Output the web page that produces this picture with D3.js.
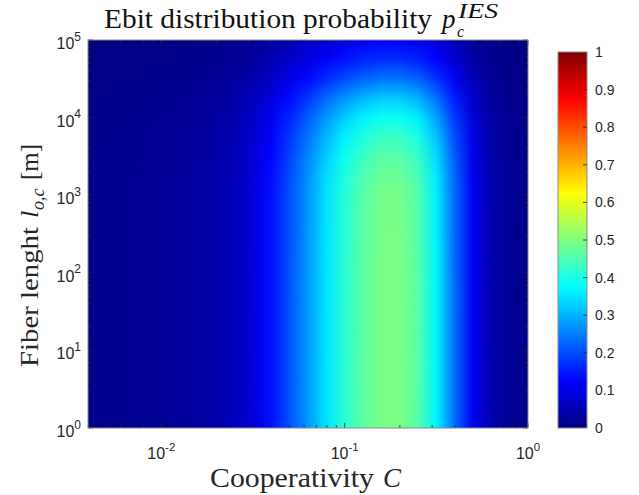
<!DOCTYPE html>
<html><head><meta charset="utf-8">
<script src="https://cdn.jsdelivr.net/npm/d3@7"></script>
<style>html,body{margin:0;padding:0;background:#fff;} svg{display:block;}</style>
</head><body>
<svg id="chart" width="639" height="495"></svg>
<script>
// ---- data ----
// grid of cooperativity values, given as powers of ten
const coopExponents = [-2.4,-2.3,-2.2,-2.1,-2.0,-1.9,-1.8,-1.7,-1.6,-1.5,-1.4,-1.3,-1.2,-1.1,-1.0,-0.9,-0.8,-0.7,-0.6,-0.5,-0.4,-0.3,-0.2,-0.1,0.0];
// grid of fiber lengths [m], given as powers of ten
const fiberExponents = [0,1,2,3,3.25,3.5,3.75,4,4.25,4.5,4.75,5];
// ebit distribution probability, one row per fiber length, one value per cooperativity
const probRows = [
  [0.012,0.014,0.016,0.019,0.022,0.026,0.032,0.042,0.058,0.090,0.140,0.205,0.275,0.350,0.415,0.465,0.495,0.495,0.460,0.365,0.230,0.110,0.045,0.020,0.010],
  [0.012,0.014,0.016,0.019,0.022,0.026,0.032,0.042,0.058,0.090,0.140,0.205,0.275,0.350,0.415,0.465,0.495,0.495,0.460,0.365,0.230,0.110,0.045,0.020,0.010],
  [0.012,0.014,0.016,0.019,0.022,0.026,0.032,0.042,0.058,0.090,0.140,0.205,0.275,0.350,0.415,0.465,0.495,0.495,0.460,0.365,0.230,0.110,0.045,0.020,0.010],
  [0.012,0.014,0.016,0.019,0.022,0.026,0.032,0.042,0.057,0.089,0.139,0.203,0.272,0.347,0.411,0.460,0.490,0.490,0.455,0.361,0.228,0.109,0.045,0.020,0.010],
  [0.012,0.014,0.016,0.018,0.021,0.025,0.031,0.041,0.056,0.087,0.136,0.199,0.267,0.340,0.403,0.451,0.480,0.480,0.446,0.354,0.223,0.107,0.044,0.019,0.010],
  [0.011,0.013,0.015,0.018,0.020,0.024,0.030,0.039,0.054,0.084,0.130,0.191,0.256,0.326,0.386,0.432,0.460,0.460,0.428,0.339,0.214,0.102,0.042,0.019,0.009],
  [0.010,0.012,0.014,0.017,0.019,0.023,0.028,0.037,0.050,0.078,0.122,0.178,0.239,0.305,0.361,0.405,0.431,0.431,0.400,0.318,0.200,0.096,0.039,0.017,0.009],
  [0.009,0.011,0.012,0.015,0.017,0.020,0.025,0.033,0.045,0.070,0.109,0.160,0.215,0.273,0.324,0.363,0.386,0.386,0.359,0.285,0.179,0.086,0.035,0.016,0.008],
  [0.008,0.009,0.010,0.012,0.014,0.017,0.021,0.027,0.038,0.059,0.091,0.133,0.179,0.228,0.270,0.302,0.322,0.322,0.299,0.237,0.150,0.072,0.029,0.013,0.007],
  [0.006,0.007,0.008,0.009,0.011,0.012,0.015,0.020,0.028,0.043,0.067,0.098,0.132,0.168,0.199,0.223,0.238,0.238,0.221,0.175,0.110,0.053,0.022,0.010,0.005],
  [0.004,0.005,0.005,0.006,0.007,0.009,0.011,0.014,0.020,0.031,0.048,0.070,0.094,0.119,0.141,0.158,0.168,0.168,0.156,0.124,0.078,0.037,0.015,0.007,0.003],
  [0.003,0.003,0.004,0.005,0.005,0.006,0.008,0.010,0.014,0.022,0.034,0.049,0.066,0.084,0.100,0.112,0.119,0.119,0.110,0.088,0.055,0.026,0.011,0.005,0.002]
];
const xTickExponents = [-2,-1,0];
const yTickExponents = [0,1,2,3,4,5];
const colorbarTicks = [0,0.1,0.2,0.3,0.4,0.5,0.6,0.7,0.8,0.9,1];
const colorbarLabels = ["0","0.1","0.2","0.3","0.4","0.5","0.6","0.7","0.8","0.9","1"];
const jetStops = [0,0.125,0.375,0.625,0.875,1];
const jetColors = ["#000080","#0000ff","#00ffff","#ffff00","#ff0000","#800000"];

// ---- layout ----
const svg = d3.select('#chart');
const P = {left:88, right:528, top:40, bottom:428};
const CB = {left:558, right:587, top:52, bottom:428};
const axisCol = '#262626';
const boxCol = '#8a8a8a';
const sans = '"Liberation Sans", Arial, sans-serif';
const serif = '"Liberation Serif", "Times New Roman", serif';

svg.append('rect').attr('width',639).attr('height',495).attr('fill','#fff');

const x = d3.scaleLog()
  .domain([Math.pow(10, coopExponents[0]), Math.pow(10, coopExponents[coopExponents.length-1])])
  .range([P.left, P.right]);
const y = d3.scaleLog().domain([1, 1e5]).range([P.bottom, P.top]);
const jet = d3.scaleLinear().domain(jetStops).range(jetColors).clamp(true);

const defs = svg.append('defs');
defs.append('clipPath').attr('id','plotClip').append('rect')
  .attr('x',P.left).attr('y',P.top).attr('width',P.right-P.left).attr('height',P.bottom-P.top);

// one horizontal gradient per data row
probRows.forEach((row,j) => {
  const g = defs.append('linearGradient').attr('id','row'+j)
    .attr('gradientUnits','userSpaceOnUse')
    .attr('x1',P.left).attr('x2',P.right).attr('y1',0).attr('y2',0);
  row.forEach((v,i) => {
    const cx = x(Math.pow(10, coopExponents[i]));
    g.append('stop').attr('offset',(cx-P.left)/(P.right-P.left)).attr('stop-color',jet(v));
  });
});
// vertical blend between consecutive rows
const fade = defs.append('linearGradient').attr('id','fade')
  .attr('x1',0).attr('y1',1).attr('x2',0).attr('y2',0);
fade.append('stop').attr('offset',0).attr('stop-color','#fff').attr('stop-opacity',0);
fade.append('stop').attr('offset',1).attr('stop-color','#fff').attr('stop-opacity',1);
defs.append('mask').attr('id','fadeMask').attr('maskContentUnits','objectBoundingBox')
  .style('mask-type','alpha')
  .append('rect').attr('x',0).attr('y',0).attr('width',1).attr('height',1).attr('fill','url(#fade)');

const heat = svg.append('g').attr('clip-path','url(#plotClip)');
for (let j = 0; j < probRows.length-1; j++) {
  const yLow = y(Math.pow(10, fiberExponents[j]));
  const yHigh = y(Math.pow(10, fiberExponents[j+1]));
  heat.append('rect').attr('x',P.left).attr('width',P.right-P.left)
    .attr('y',yHigh).attr('height',yLow-yHigh+1).attr('fill','url(#row'+j+')');
  heat.append('rect').attr('x',P.left).attr('width',P.right-P.left)
    .attr('y',yHigh).attr('height',yLow-yHigh).attr('fill','url(#row'+(j+1)+')')
    .attr('mask','url(#fadeMask)');
}

// ---- ticks ----
const isMajor = v => Math.abs(Math.log10(v) - Math.round(Math.log10(v))) < 1e-9;
const tg = svg.append('g').attr('stroke',axisCol).attr('stroke-width',0.8);
x.ticks().forEach(v => {
  const px = x(v), L = isMajor(v) ? 5 : 3;
  tg.append('line').attr('x1',px).attr('x2',px).attr('y1',P.bottom).attr('y2',P.bottom-L);
  tg.append('line').attr('x1',px).attr('x2',px).attr('y1',P.top).attr('y2',P.top+L);
});
y.ticks().forEach(v => {
  const py = y(v), L = isMajor(v) ? 5 : 3;
  tg.append('line').attr('x1',P.left).attr('x2',P.left+L).attr('y1',py).attr('y2',py);
  tg.append('line').attr('x1',P.right).attr('x2',P.right-L).attr('y1',py).attr('y2',py);
});
svg.append('rect').attr('x',P.left).attr('y',P.top).attr('width',P.right-P.left).attr('height',P.bottom-P.top)
  .attr('fill','none').attr('stroke',boxCol).attr('stroke-width',1);

// tick labels
xTickExponents.forEach(e => {
  const t = svg.append('text').attr('x',x(Math.pow(10,e))).attr('y',458.5)
    .attr('text-anchor','middle').attr('font-family',sans).attr('font-size',16).attr('fill',axisCol);
  t.append('tspan').text('10');
  t.append('tspan').attr('dy',-7.5).attr('font-size',11.5).text(String(e));
});
yTickExponents.forEach(e => {
  const t = svg.append('text').attr('x',81).attr('y',y(Math.pow(10,e))+9)
    .attr('text-anchor','end').attr('font-family',sans).attr('font-size',16).attr('fill',axisCol);
  t.append('tspan').text('10');
  t.append('tspan').attr('dy',-8.5).attr('font-size',12).text(String(e));
});

// ---- colorbar ----
const cbY = d3.scaleLinear().domain([0,1]).range([CB.bottom, CB.top]);
const cbGrad = defs.append('linearGradient').attr('id','cbGrad')
  .attr('gradientUnits','userSpaceOnUse').attr('x1',0).attr('x2',0)
  .attr('y1',cbY(0)).attr('y2',cbY(1));
jetStops.forEach((s,i) => cbGrad.append('stop').attr('offset',s).attr('stop-color',jetColors[i]));
svg.append('rect').attr('x',CB.left).attr('y',CB.top).attr('width',CB.right-CB.left).attr('height',CB.bottom-CB.top)
  .attr('fill','url(#cbGrad)').attr('stroke',boxCol).attr('stroke-width',1);
colorbarTicks.forEach((v,i) => {
  const py = cbY(v);
  if (i > 0 && i < colorbarTicks.length-1)
    svg.append('line').attr('x1',CB.right-4).attr('x2',CB.right).attr('y1',py).attr('y2',py)
      .attr('stroke',axisCol).attr('stroke-width',0.8);
  svg.append('text').attr('x',595).attr('y',py+5).attr('font-family',sans).attr('font-size',14)
    .attr('fill',axisCol).text(colorbarLabels[i]);
});

// ---- title ----
const title = svg.append('text').attr('font-family',serif).attr('fill','#111').attr('font-size',27)
  .attr('x',104).attr('y',28);
title.append('tspan').attr('textLength',328).attr('lengthAdjust','spacingAndGlyphs').text('Ebit distribution probability');
title.append('tspan').attr('x',442).attr('font-style','italic').text('p');
title.append('tspan').attr('x',457).attr('y',37).attr('font-size',16).attr('font-style','italic').text('c');
title.append('tspan').attr('x',458).attr('y',18).attr('font-size',20).attr('font-style','italic')
  .attr('textLength',40).attr('lengthAdjust','spacingAndGlyphs').text('IES');

// ---- x label ----
const xl = svg.append('text').attr('font-family',serif).attr('fill','#262626').attr('font-size',27)
  .attr('x',210).attr('y',487);
xl.append('tspan').attr('textLength',164).attr('lengthAdjust','spacingAndGlyphs').text('Cooperativity');
xl.append('tspan').attr('x',383).attr('font-style','italic').text('C');

// ---- y label ----
const yl = svg.append('text').attr('font-family',serif).attr('fill','#262626').attr('font-size',26)
  .attr('transform','rotate(-90)').attr('x',-367).attr('y',38);
yl.append('tspan').attr('textLength',140).attr('lengthAdjust','spacingAndGlyphs').text('Fiber lenght');
yl.append('tspan').attr('x',-218).attr('font-style','italic').text('l');
yl.append('tspan').attr('x',-210).attr('y',44).attr('font-size',18).attr('font-style','italic').text('o,c');
yl.append('tspan').attr('x',-180).attr('y',38).attr('textLength',36).attr('lengthAdjust','spacingAndGlyphs').text('[m]');
</script>
</body></html>
